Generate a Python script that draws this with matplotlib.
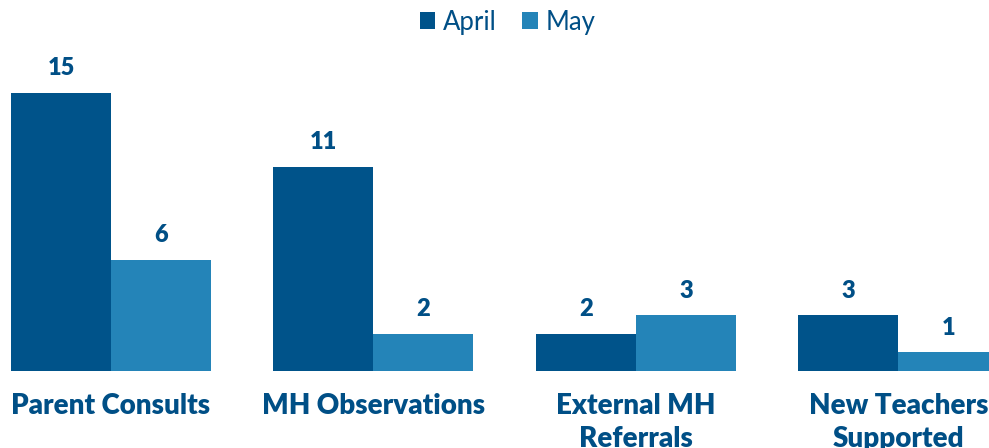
import matplotlib.pyplot as plt
import numpy as np

categories = ["Parent Consults", "MH Observations", "External MH\nReferrals", "New Teachers\nSupported"]
april = [15, 11, 2, 3]
may = [6, 2, 3, 1]

dark_blue = "#00538A"
light_blue = "#2484B8"
text_color = "#004F86"

plt.rcParams["font.family"] = ["Lato", "DejaVu Sans"]

fig = plt.figure(figsize=(9.89, 4.48), dpi=100)
# axes spans whole width, baseline at y=371 px
ax = fig.add_axes([0, 1 - 371 / 448, 1, 371 / 448])

x = np.arange(len(categories))
w = 0.381
b1 = ax.bar(x - w / 2, april, w, color=dark_blue, label="April")
b2 = ax.bar(x + w / 2, may, w, color=light_blue, label="May")

for bars in (b1, b2):
    ax.bar_label(bars, padding=10, fontsize=17, fontweight="heavy", color=text_color)

ax.set_xlim(-0.4229, 3.345)
ax.set_ylim(0, 20.02)
ax.set_xticks(x)
ax.set_xticklabels(categories, fontsize=20, fontweight="heavy", color=text_color, linespacing=1.3)
ax.tick_params(axis="x", length=0, pad=16)
ax.set_yticks([])
for s in ax.spines.values():
    s.set_visible(False)

fig.legend(loc="upper center", bbox_to_anchor=(0.513, 1.03), ncol=2, frameon=False,
           fontsize=18.5, handlelength=0.6, handleheight=0.6, handletextpad=0.3,
           columnspacing=1.0, labelcolor=text_color)

fig.savefig("out.png", dpi=100)
